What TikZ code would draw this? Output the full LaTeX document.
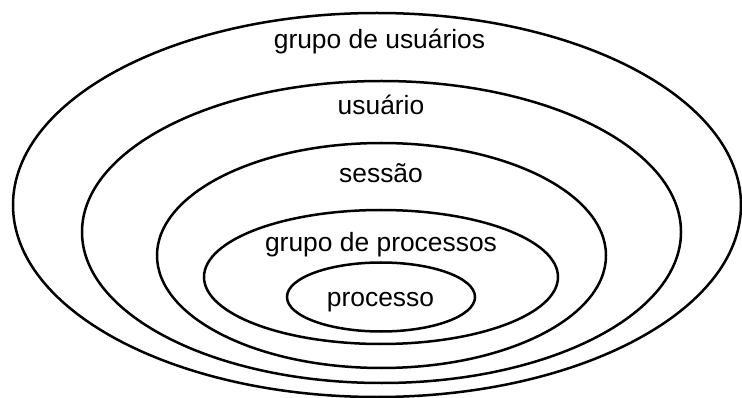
\documentclass[tikz,border=0pt]{standalone}
\usepackage{fontspec}
\setmainfont{Liberation Sans}
\usepackage{tikz}
\usetikzlibrary{positioning}

\begin{document}
\begin{tikzpicture}[x=1pt,y=-1pt]
	\tikzstyle{ring}=[draw=black,line width=2.5pt]
	\tikzstyle{label}=[anchor=base,inner sep=0pt,font=\fontsize{26.4}{30}\selectfont]
	\useasboundingbox (0,0) rectangle (742,398);
	% aneis, de fora para dentro
	\draw[ring] (377,205) ellipse [x radius=364pt, y radius=192pt];
	\draw[ring] (381.5,232) ellipse [x radius=299.5pt, y radius=151pt];
	\draw[ring] (381.5,255.5) ellipse [x radius=224.5pt, y radius=112.5pt];
	\draw[ring] (381,277) ellipse [x radius=177pt, y radius=67pt];
	\draw[ring] (381,297) ellipse [x radius=94pt, y radius=34.5pt];
	\node[label](gusr) at (379.5,48.3) {grupo de usuários};
	\node[label](usr) at (381,115) {usuário};
	\node[label](sess) at (381,183) {sessão};
	\node[label](gproc) at (381,251.5) {grupo de processos};
	\node[label](proc) at (380.5,306.7) {processo};
\end{tikzpicture}
\end{document}
